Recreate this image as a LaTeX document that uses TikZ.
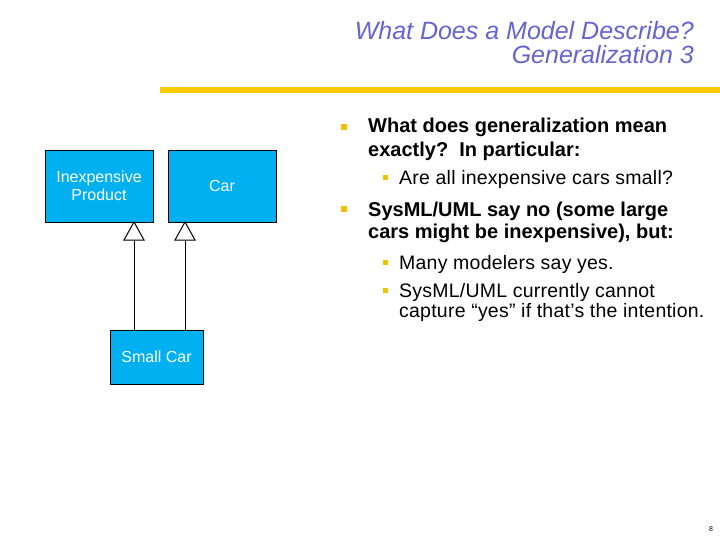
\documentclass[tikz,border=0pt]{standalone}
\usepackage{fontspec}
\setmainfont{Liberation Sans}
\definecolor{titleblue}{HTML}{6464D2}
\definecolor{barYellow}{HTML}{FFCC00}
\definecolor{boxblue}{HTML}{00B0F0}
\definecolor{bulletY}{HTML}{F2C200}
\begin{document}
\begin{tikzpicture}[x=1pt,y=-1pt,
  cls/.style={draw=black,line width=0.8pt,fill=boxblue,text=white,font=\fontsize{16}{18}\selectfont,align=center,inner sep=0pt},
  gen/.style={line width=1pt},
  tri/.style={draw=black,line width=1pt,fill=white},
  bl/.style={anchor=base west,inner sep=0pt,font=\fontsize{20}{24}\selectfont\bfseries},
  sl/.style={anchor=base west,inner sep=0pt,font=\fontsize{19.5}{22}\selectfont\addfontfeature{LetterSpace=1.2}},
  bul/.style={fill=bulletY,minimum size=6pt,inner sep=0pt},
  sbul/.style={fill=bulletY,minimum size=5pt,inner sep=0pt},
  ttl/.style={anchor=base east,inner sep=0pt,text=titleblue,font=\fontsize{25}{28}\selectfont\itshape}]
\useasboundingbox (0,0) rectangle (720,540);
% title
\node[ttl] (t1) at (694,40) {What Does a Model Describe?};
\node[ttl] (t2) at (694,64) {Generalization 3};
\fill[barYellow] (160,87) rectangle (720,93);
% classes
\node[cls,minimum width=108pt,minimum height=72pt] (ip) at (99,186) {Inexpensive\\Product};
\node[cls,minimum width=108pt,minimum height=72pt] (car) at (222,186) {Car};
\node[cls,minimum width=93pt,minimum height=54pt] (sc) at (156.5,357) {Small Car};
% generalization arrows
\coordinate (a1) at (134,222);
\coordinate (a2) at (185,222);
\draw[gen] (134,330) -- (134,240);
\draw[gen] (185,330) -- (185,240);
\draw[tri] (a1) -- (124,240) -- (144,240) -- cycle;
\draw[tri] (a2) -- (175,240) -- (195,240) -- cycle;
% bullets
\node[bul] (b1) at (344,127) {};
\node[bl] (l1) at (368,133) {What does generalization mean};
\node[bl] (l2) at (368,157) {exactly?\ \ In particular:};
\node[sbul] (b2) at (385,178) {};
\node[sl] (l3) at (399,185) {Are all inexpensive cars small?};
\node[bul] (b3) at (344,209) {};
\node[bl] (l4) at (368,216) {SysML/UML say no (some large};
\node[bl] (l5) at (368,239) {cars might be inexpensive), but:};
\node[sbul] (b4) at (385,262) {};
\node[sl] (l6) at (399,269) {Many modelers say yes.};
\node[sbul] (b5) at (385,290) {};
\node[sl] (l7) at (399,297) {SysML/UML currently cannot};
\node[sl] (l8) at (399,317) {capture “yes” if that’s the intention.};
\node[anchor=base,inner sep=0pt,font=\fontsize{7}{8}\selectfont] (pg) at (711,531) {8};
\end{tikzpicture}
\end{document}
